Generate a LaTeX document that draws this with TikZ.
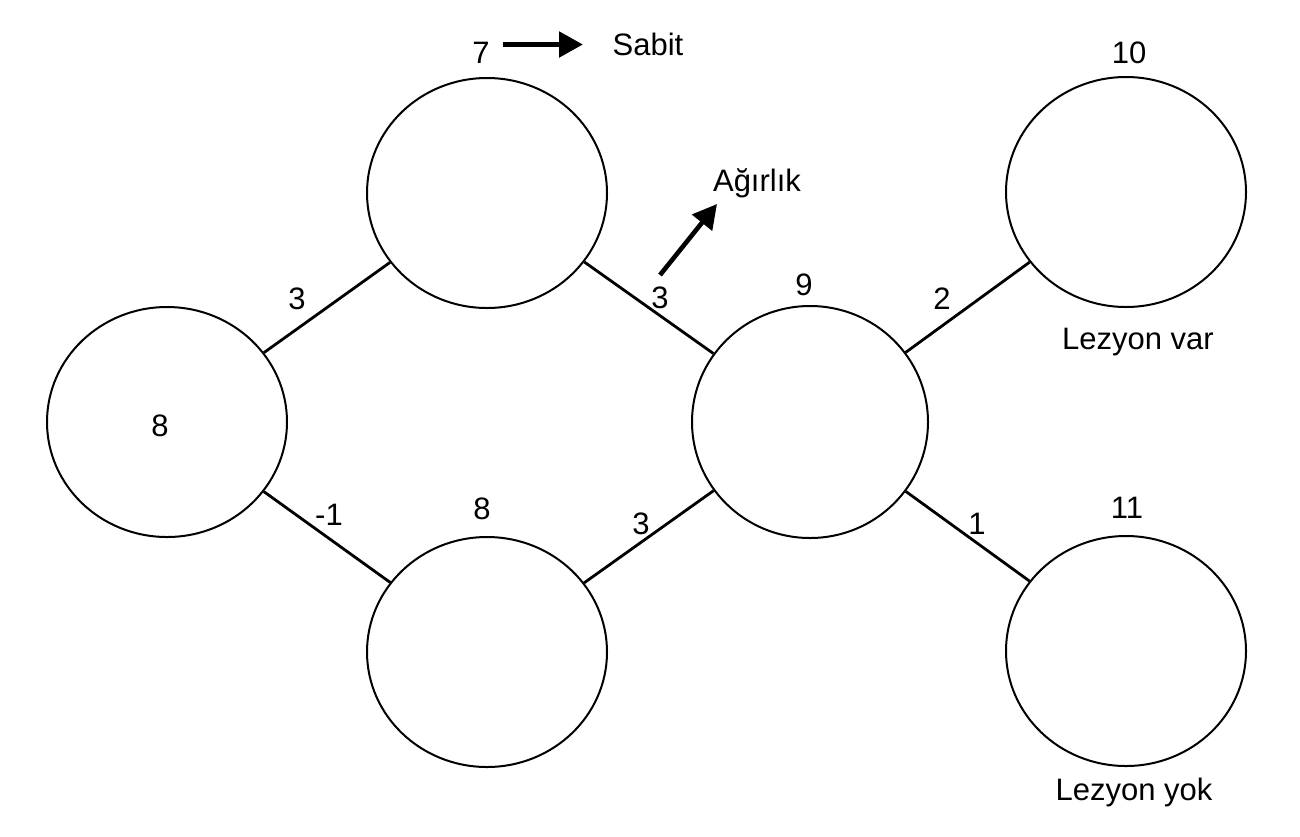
\documentclass[tikz,border=0pt]{standalone}
\usepackage{fontspec}
\setmainfont{Liberation Sans}
\usetikzlibrary{arrows.meta,shapes.geometric}

\begin{document}
\begin{tikzpicture}[x=0.5pt,y=-0.5pt,
  neuron/.style={draw,ellipse,line width=1pt,inner sep=0pt,minimum width=120pt,minimum height=115pt},
  link/.style={line width=1.4pt},
  pointer/.style={line width=2.6pt,-{Triangle[length=12pt,width=12.5pt]}},
  lbl/.style={anchor=base,inner sep=0pt,font=\fontsize{15.5}{18}\selectfont}]
\useasboundingbox (0,0) rectangle (1300,836);

\node[neuron] (l) at (167,422) {};
\node[neuron] (t) at (487,193) {};
\node[neuron] (b) at (487,652) {};
\node[neuron,minimum width=118pt,minimum height=116pt] (m) at (810,422) {};
\node[neuron] (tr) at (1126,192) {};
\node[neuron] (br) at (1126,651) {};

\draw[link] (l) -- (t);
\draw[link] (l) -- (b);
\draw[link] (t) -- (m);
\draw[link] (b) -- (m);
\draw[link] (m) -- (tr);
\draw[link] (m) -- (br);

\coordinate (s1) at (503,44.5);
\coordinate (s2) at (583,44.5);
\coordinate (a1) at (660,275);
\coordinate (a2) at (717,204);
\draw[pointer] (s1) -- (s2);
\draw[pointer,line width=2.3pt] (a1) -- (a2);


\node[lbl] (bt) at (481,63) {7};
\node[lbl] (sabit) at (648,55) {Sabit};
\node[lbl] (agirlik) at (757,191) {Ağırlık};

\node[lbl] (bl) at (160,436) {8};
\node[lbl] (bb) at (482,519) {8};
\node[lbl] (bm) at (804,295) {9};
\node[lbl] (btr) at (1129,63) {10};
\node[lbl] (bbr) at (1127,518) {11};

\node[lbl] (wlt) at (297,309) {3};
\node[lbl] (wlb) at (329,525) {-1};
\node[lbl] (wtm) at (660,308) {3};
\node[lbl] (wbm) at (641,534) {3};
\node[lbl] (wmtr) at (942,309) {2};
\node[lbl] (wmbr) at (977,534) {1};

\node[lbl] (var) at (1138,349) {Lezyon var};
\node[lbl] (yok) at (1134,800) {Lezyon yok};

\end{tikzpicture}
\end{document}
